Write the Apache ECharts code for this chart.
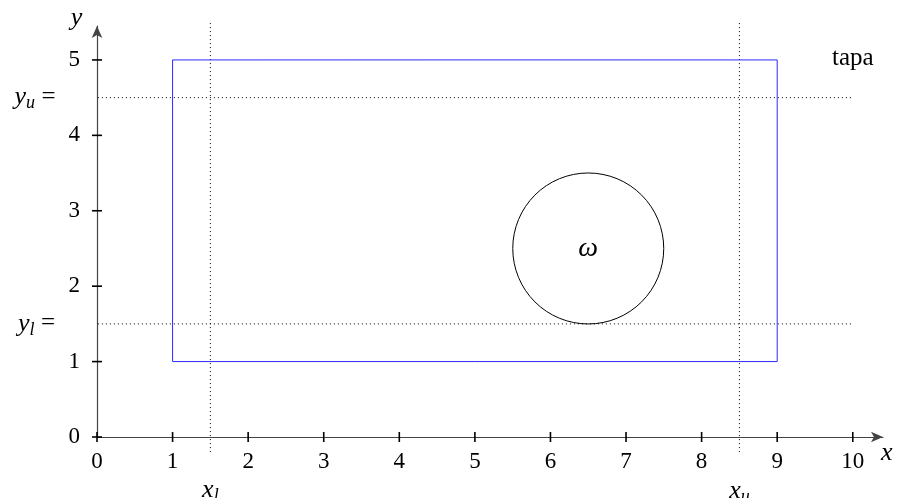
<!DOCTYPE html>
<html>
<head>
<meta charset="utf-8">
<script src="https://cdn.jsdelivr.net/npm/echarts@6/dist/echarts.min.js"></script>
<style>
  html, body { margin: 0; padding: 0; background: #fff; }
  #chart { width: 900px; height: 498px; }
</style>
</head>
<body>
<div id="chart"></div>
<script>
const xTicks = [0, 1, 2, 3, 4, 5, 6, 7, 8, 9, 10];
const yTicks = [0, 1, 2, 3, 4, 5];
// blue box corners
const boxPath = [[1, 1], [9, 1], [9, 5], [1, 5], [1, 1]];
// circle omega
const circleCenter = [6.5, 2.5];
const circleRadius = 1;
// dotted guide lines
const yGuides = [4.5, 1.5];
const xGuides = [1.5, 8.5];
const hGuideSpan = [-0.2, 10];
const vGuideSpan = [-0.2, 5.5];
// annotations: [x, y, rich text]
const notes = [
  [-0.82, 4.5, '{i|y}{s|u}{g| }{n|=}'],
  [-0.8, 1.5, '{i|y}{s|l}{g| }{n|=}'],
  [1.5, -0.71, '{i|x}{s|l}'],
  [8.5, -0.72, '{i|x}{s|u}'],
  [10.0, 5.02, '{n|tapa}'],
  [6.5, 2.5, '{w|ω}'],
  [10.45, -0.21, '{i|x}'],
  [-0.27, 5.55, '{i|y}']
];

const serif = '"Liberation Serif", "DejaVu Serif", serif';
const rich = {
  i: { fontFamily: serif, fontStyle: 'italic', fontSize: 26, fill: '#000' },
  w: { fontFamily: serif, fontStyle: 'italic', fontSize: 28, fill: '#000' },
  s: { fontFamily: serif, fontStyle: 'italic', fontSize: 18, fill: '#000', padding: [12, 0, 0, 0] },
  g: { fontFamily: serif, fontSize: 26, fill: '#000' },
  n: { fontFamily: serif, fontSize: 25, fill: '#000' }
};

const guideLines = [];
yGuides.forEach(y => guideLines.push([[hGuideSpan[0], y], [hGuideSpan[1], y]]));
xGuides.forEach(x => guideLines.push([[x, vGuideSpan[0]], [x, vGuideSpan[1]]]));

const guideSeries = guideLines.map(seg => ({
  type: 'line',
  data: seg,
  clip: false,
  symbol: 'none',
  silent: true,
  lineStyle: { color: '#000', width: 1, type: [1, 3] },
  z: 1
}));

const tickData = xTicks.map(v => [v, 0, 0]).concat(yTicks.map(v => [0, v, 1]));

let myChart = echarts.init(document.getElementById('chart'));
myChart.setOption({
  animation: false,
  grid: { left: 97, right: 17, top: 26, bottom: 61 },
  xAxis: {
    type: 'value',
    min: 0,
    max: 10.4,
    interval: 1,
    splitLine: { show: false },
    axisTick: { show: false },
    axisLine: {
      show: true,
      symbol: ['none', 'arrow'],
      symbolSize: [8, 12],
      lineStyle: { color: '#444', width: 1.2 }
    },
    axisLabel: {
      customValues: xTicks,
      margin: 13,
      fontFamily: serif,
      fontSize: 23,
      color: '#000'
    }
  },
  yAxis: {
    type: 'value',
    min: 0,
    max: 5.45,
    interval: 1,
    splitLine: { show: false },
    axisTick: { show: false },
    axisLine: {
      show: true,
      symbol: ['none', 'arrow'],
      symbolSize: [8, 12],
      lineStyle: { color: '#444', width: 1.2 }
    },
    axisLabel: {
      customValues: yTicks,
      margin: 17,
      fontFamily: serif,
      fontSize: 23,
      color: '#000'
    }
  },
  series: guideSeries.concat([
    {
      type: 'line',
      data: boxPath,
      clip: false,
      symbol: 'none',
      lineStyle: { color: '#2a2aff', width: 1 },
      z: 2
    },
    {
      type: 'custom',
      data: [[circleCenter[0], circleCenter[1], circleRadius]],
      renderItem: function (params, api) {
        const c = api.coord([api.value(0), api.value(1)]);
        const r = api.size([api.value(2), api.value(2)]);
        return {
          type: 'circle',
          shape: { cx: c[0], cy: c[1], r: (r[0] + r[1]) / 2 },
          style: { fill: 'none', stroke: '#000', lineWidth: 1 }
        };
      },
      z: 3
    },
    {
      type: 'custom',
      data: tickData,
      renderItem: function (params, api) {
        const p = api.coord([api.value(0), api.value(1)]);
        const vertical = api.value(2) === 0;
        return {
          type: 'line',
          shape: vertical
            ? { x1: p[0], y1: p[1] - 5, x2: p[0], y2: p[1] + 5 }
            : { x1: p[0] - 5, y1: p[1], x2: p[0] + 5, y2: p[1] },
          style: { stroke: '#000', lineWidth: 1.6 }
        };
      },
      z: 4
    },
    {
      type: 'custom',
      data: notes,
      renderItem: function (params, api) {
        const p = api.coord([api.value(0), api.value(1)]);
        return {
          type: 'text',
          x: p[0],
          y: p[1],
          style: {
            text: notes[params.dataIndex][2],
            rich: rich,
            align: 'center',
            verticalAlign: 'middle'
          }
        };
      },
      z: 5
    }
  ])
});
window.addEventListener('resize', myChart.resize);
</script>
</body>
</html>
